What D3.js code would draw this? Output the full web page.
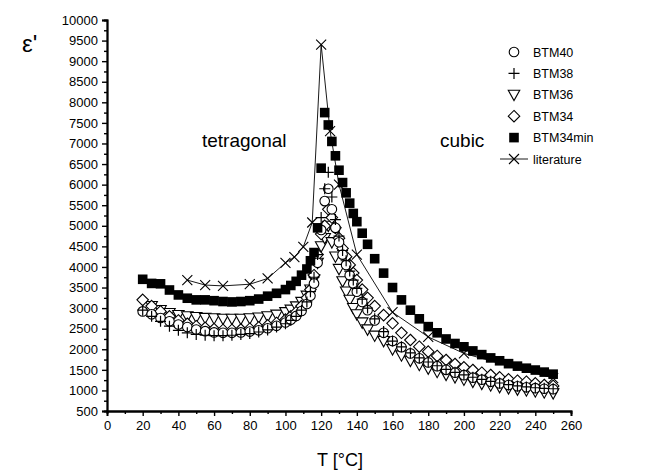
<!DOCTYPE html>
<html><head><meta charset="utf-8">
<script src="https://cdn.jsdelivr.net/npm/d3@7"></script>
<style>body{margin:0;background:#fff}svg{display:block}text{font-family:"Liberation Sans",Arial,sans-serif;fill:#000}</style>
</head><body><svg id="c" width="652" height="471"></svg>
<script>
const xTicks=[0,20,40,60,80,100,120,140,160,180,200,220,240,260];
const yTicks=[500,1000,1500,2000,2500,3000,3500,4000,4500,5000,5500,6000,6500,7000,7500,8000,8500,9000,9500,10000];
const seriesNames=["BTM40","BTM38","BTM36","BTM34","BTM34min","literature"];

const T_BTM40=[20,25,30,35,40,45,50,55,60,65,70,75,80,85,90,95,100,103,106,109,112,114,116,118,120,122,124,126,128,130,132,134,136,138,140,143,146,150,155,160,165,170,175,180,185,190,195,200,205,210,215,220,225,230,235,240,245,250];
const V_BTM40=[2920,2850,2760,2680,2600,2540,2480,2440,2410,2400,2400,2410,2430,2460,2510,2570,2650,2720,2810,2930,3100,3300,3600,4100,4900,5600,5900,5400,4950,4600,4300,4050,3800,3600,3400,3150,2950,2700,2400,2200,2050,1900,1780,1680,1590,1500,1430,1370,1310,1260,1210,1170,1130,1100,1075,1055,1040,1030];

const T_BTM38=[20,25,30,35,40,45,50,55,60,65,70,75,80,85,90,95,100,103,106,109,112,114,116,118,120,122,124,126,128,130,132,134,136,138,140,143,146,150,155,160,165,170,175,180,185,190,195,200,205,210,215,220,225,230,235,240,245,250];
const V_BTM38=[2950,2800,2680,2560,2460,2400,2360,2340,2330,2330,2340,2360,2380,2420,2470,2540,2620,2700,2800,2950,3150,3400,3750,4300,5200,5900,6300,5700,5150,4750,4400,4150,3900,3680,3480,3220,3000,2740,2430,2200,2060,1910,1790,1690,1600,1510,1440,1380,1320,1270,1220,1180,1140,1110,1085,1065,1050,1040];

const T_BTM36=[25,30,35,40,45,50,55,60,65,70,75,80,85,90,95,100,103,106,109,112,114,116,118,120,122,124,126,128,130,132,134,136,138,140,143,146,150,155,160,165,170,175,180,185,190,195,200,205,210,215,220,225,230,235,240,245,250];
const V_BTM36=[3050,2950,2880,2830,2800,2780,2760,2750,2740,2740,2740,2750,2770,2800,2840,2900,2960,3040,3150,3300,3450,3700,4100,4500,4700,5000,4600,4250,3950,3650,3400,3200,3000,2850,2650,2480,2330,2200,2000,1850,1720,1620,1530,1450,1380,1320,1260,1210,1160,1120,1080,1050,1020,1000,975,950,930];

const T_BTM34=[20,25,30,35,40,45,50,55,60,65,70,75,80,85,90,95,100,103,106,109,112,114,116,118,120,122,124,126,128,130,132,134,136,138,140,143,146,150,155,160,165,170,175,180,185,190,195,200,205,210,215,220,225,230,235,240,245,250];
const V_BTM34=[3200,3050,2920,2800,2700,2620,2560,2520,2490,2470,2470,2480,2500,2530,2580,2640,2720,2800,2900,3050,3250,3450,3800,4300,4800,5000,5400,5200,4950,4700,4450,4250,4050,3850,3680,3450,3250,3050,2830,2630,2400,2225,2063,1942,1837,1739,1642,1561,1496,1431,1375,1318,1270,1237,1213,1173,1132,1108];

const T_BTM34min=[20,25,30,35,40,45,50,55,60,65,70,75,80,85,90,95,100,103,106,109,112,114,116,118,120,122,124,126,128,130,132,134,136,138,140,143,146,150,155,160,165,170,175,180,185,190,195,200,205,210,215,220,225,230,235,240,245,250];
const V_BTM34min=[3700,3600,3590,3440,3320,3240,3200,3200,3180,3160,3150,3160,3180,3220,3290,3360,3450,3550,3650,3800,3950,4150,4350,4950,6400,7750,7450,7050,6700,6350,6050,5800,5550,5300,5100,4820,4550,4200,3850,3500,3200,2950,2740,2550,2400,2250,2140,2060,1960,1870,1790,1720,1650,1590,1540,1495,1445,1395];

const T_lit=[45,55,65,80,90,100,105,110,115,120,125,130,140,160,180,200,250];
const V_lit=[3680,3560,3540,3580,3720,4100,4240,4490,5080,9400,7300,6000,4300,2900,2300,1900,1300];

const svg=d3.select("#c");
const x=d3.scaleLinear().domain([0,260]).range([107,571]);
const y=d3.scaleLinear().domain([500,10000]).range([411,20]);

// axes
svg.append("g").attr("transform","translate(0,411)")
  .call(d3.axisBottom(x).tickValues(xTicks).tickSize(5).tickPadding(5).tickFormat(d3.format("d")));
svg.append("g").attr("transform","translate(0,411)")
  .call(d3.axisBottom(x).tickValues(d3.range(10,260,20)).tickSize(3).tickFormat(""));
svg.append("g").attr("transform","translate(107,0)")
  .call(d3.axisLeft(y).tickValues(yTicks).tickSize(5).tickPadding(4).tickFormat(d3.format("d")));
svg.append("g").attr("transform","translate(107,0)")
  .call(d3.axisLeft(y).tickValues(d3.range(750,10000,500)).tickSize(3).tickFormat(""));
svg.selectAll(".domain").attr("stroke","#000").attr("stroke-width",1.8);
svg.selectAll(".tick line").attr("stroke","#000").attr("stroke-width",1.4);
svg.selectAll(".tick text").attr("font-size",13).attr("font-family","Liberation Sans, Arial, sans-serif").attr("fill","#000");

svg.append("text").attr("x",22).attr("y",52).attr("font-size",24).text("ε'");
svg.append("text").attr("x",340).attr("y",466).attr("text-anchor","middle").attr("font-size",18).text("T [°C]");
svg.append("text").attr("x",202).attr("y",147).attr("font-size",19).text("tetragonal");
svg.append("text").attr("x",440).attr("y",147).attr("font-size",19).text("cubic");

// marker drawing
function plusPath(s){const h=s/2;return `M${-h},0H${h}M0,${-h}V${h}`;}
function xPath(s){const h=s/2;return `M${-h},${-h}L${h},${h}M${-h},${h}L${h},${-h}`;}
function triDown(s){const h=s/2;return `M${-h},${-h*0.8}L${h},${-h*0.8}L0,${h}Z`;}
function diamond(s){const h=s/2;return `M0,${-h}L${h},0L0,${h}L${-h},0Z`;}
function drawMarker(g,type,cx,cy){
  if(type==="circle") g.append("circle").attr("cx",cx).attr("cy",cy).attr("r",4.8).attr("fill","#fff").attr("stroke","#000").attr("stroke-width",1.1);
  else if(type==="plus") g.append("path").attr("d",plusPath(11)).attr("transform",`translate(${cx},${cy})`).attr("stroke","#000").attr("stroke-width",1.2).attr("fill","none");
  else if(type==="tri") g.append("path").attr("d",triDown(11.5)).attr("transform",`translate(${cx},${cy})`).attr("stroke","#000").attr("stroke-width",1.1).attr("fill","#fff");
  else if(type==="diamond") g.append("path").attr("d",diamond(11.5)).attr("transform",`translate(${cx},${cy})`).attr("stroke","#000").attr("stroke-width",1.1).attr("fill","#fff");
  else if(type==="square") g.append("rect").attr("x",cx-4.8).attr("y",cy-4.8).attr("width",9.6).attr("height",9.6).attr("fill","#000");
  else if(type==="x") g.append("path").attr("d",xPath(10)).attr("transform",`translate(${cx},${cy})`).attr("stroke","#000").attr("stroke-width",1.1).attr("fill","none");
}
const series=[
  {T:T_BTM36,V:V_BTM36,m:"tri"},
  {T:T_BTM34,V:V_BTM34,m:"diamond"},
  {T:T_BTM40,V:V_BTM40,m:"circle"},
  {T:T_BTM38,V:V_BTM38,m:"plus"},
  {T:T_BTM34min,V:V_BTM34min,m:"square"}
];
const gData=svg.append("g");
series.forEach(s=>{s.T.forEach((t,i)=>drawMarker(gData,s.m,x(t),y(s.V[i])));});
// literature
const line=d3.line().x(d=>x(d[0])).y(d=>y(d[1]));
gData.append("path").attr("d",line(T_lit.map((t,i)=>[t,V_lit[i]]))).attr("fill","none").attr("stroke","#000").attr("stroke-width",0.9);
T_lit.forEach((t,i)=>drawMarker(gData,"x",x(t),y(V_lit[i])));

// legend
const lg=svg.append("g");
const legM=["circle","plus","tri","diamond","square","x"];
seriesNames.forEach((n,i)=>{
  const yy=52+i*21.4;
  if(i===5) lg.append("line").attr("x1",500).attr("x2",528).attr("y1",yy).attr("y2",yy).attr("stroke","#000").attr("stroke-width",0.9);
  drawMarker(lg,legM[i],514,yy);
  lg.append("text").attr("x",533).attr("y",yy+4.5).attr("font-size",12.5).text(n);
});
</script></body></html>
